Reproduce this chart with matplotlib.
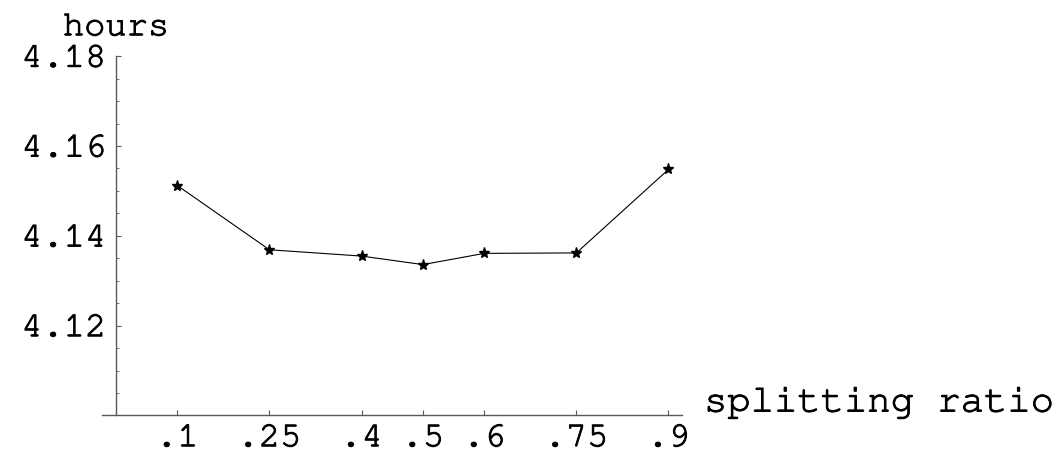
import matplotlib
matplotlib.use("Agg")
import matplotlib.pyplot as plt
import matplotlib.patheffects as pe
from matplotlib.ticker import FixedLocator, MultipleLocator

# data
ratio = [0.1, 0.25, 0.4, 0.5, 0.6, 0.75, 0.9]
hours = [4.1512, 4.1369, 4.1355, 4.1336, 4.1361, 4.1362, 4.1548]
xtick_labels = [".1", ".25", ".4", ".5", ".6", ".75", ".9"]
yticks = [4.12, 4.14, 4.16, 4.18]

FS = 25.5
# slight stroke so the thin mono face looks like the heavier Courier
THICK = [pe.withStroke(linewidth=0.7, foreground="black")]

# courier-like serif mono if present, else Liberation Mono
plt.rcParams["font.family"] = ["Courier New", "Nimbus Mono PS", "FreeMono",
                               "Liberation Mono", "DejaVu Sans"]

fig = plt.figure(figsize=(10.59, 4.6), dpi=100)
ax = fig.add_axes([0.096, 0.0946, 0.548, 0.781])

ax.plot(ratio, hours, color="black", lw=0.8, marker="*", ms=8,
        mfc="black", mec="black", clip_on=False)

ax.set_xlim(-0.0233, 0.922)
ax.set_ylim(4.10, 4.18)

for s in ("top", "right"):
    ax.spines[s].set_visible(False)
ax.spines["left"].set_position(("data", 0))
for s in ("left", "bottom"):
    ax.spines[s].set_color("0.35")
    ax.spines[s].set_linewidth(1.0)

ax.xaxis.set_major_locator(FixedLocator(ratio))
ax.set_xticklabels(xtick_labels)
ax.yaxis.set_major_locator(FixedLocator(yticks))
ax.yaxis.set_minor_locator(MultipleLocator(0.005))
ax.set_yticklabels([f"{v:.2f}" for v in yticks])

ax.tick_params(axis="both", which="major", direction="in", length=3.5,
               width=0.8, color="0.35", labelsize=FS)
ax.tick_params(axis="y", which="minor", direction="in", length=2,
               width=0.6, color="0.35")
ax.tick_params(axis="y", which="major", pad=7)
ax.tick_params(axis="x", which="major", pad=7)
for lab in ax.get_xticklabels() + ax.get_yticklabels():
    lab.set_path_effects(THICK)

ax.annotate("hours", xy=(0, 4.18), xycoords="data", xytext=(0, 21),
            textcoords="offset pixels", ha="center", va="baseline",
            fontsize=FS, annotation_clip=False, path_effects=THICK)
ax.annotate("splitting ratio", xy=(0.922, 4.10), xycoords="data",
            xytext=(22, 4), textcoords="offset pixels", ha="left",
            va="baseline", fontsize=28, annotation_clip=False,
            path_effects=THICK)

fig.savefig("out.png", dpi=100, facecolor="white")
